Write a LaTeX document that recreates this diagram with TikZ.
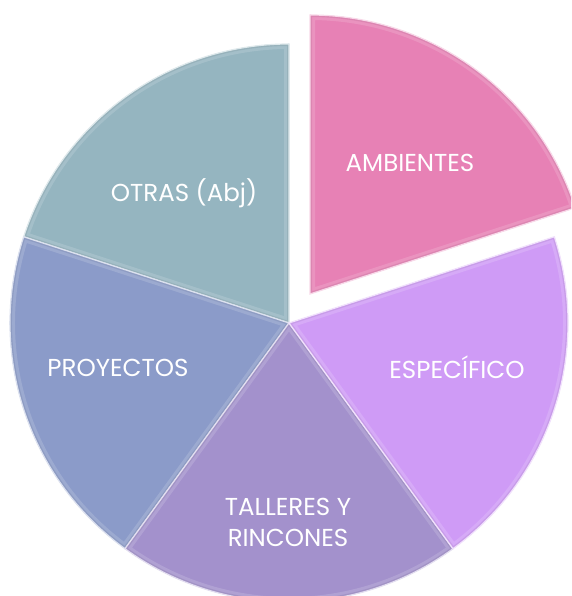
\documentclass[tikz,border=0pt]{standalone}
\usepackage{fontspec}
\setmainfont{Poppins}
\definecolor{cotras}{HTML}{95B5C0}
\definecolor{cproy}{HTML}{8B9BC9}
\definecolor{ctall}{HTML}{A391CC}
\definecolor{cespe}{HTML}{CF9BF6}
\definecolor{cambi}{HTML}{E781B5}
\tikzset{
  lbl/.style={text=white, font=\fontsize{24.5}{31}\selectfont, align=center, inner sep=0pt},
}
\newcommand{\pieslice}[4]{% center, a1, a2, colour
  \begin{scope}
    \clip (#1) -- ++(#2:279) arc[start angle=#2, end angle=#3, radius=279] -- cycle;
    \fill[#4] (#1) -- ++(#2:279) arc[start angle=#2, end angle=#3, radius=279] -- cycle;
    \draw[#4!75!white, line width=10pt, opacity=0.6] (#1) -- ++(#2:279) arc[start angle=#2, end angle=#3, radius=279] -- cycle;
    \draw[#4!85!black, line width=4pt, opacity=0.35] (#1) -- ++(#2:279) arc[start angle=#2, end angle=#3, radius=279] -- cycle;
  \end{scope}
  \draw[white!70!#4, line width=1.2pt] (#1) -- ++(#2:279) arc[start angle=#2, end angle=#3, radius=279] -- cycle;
}
\begin{document}
\begin{tikzpicture}[x=1pt,y=1pt]
\useasboundingbox (0,0) rectangle (571,596);
\clip (0,0) rectangle (571,596);
\fill[white] (0,0) rectangle (571,596);
\coordinate (c) at (289,273);
\coordinate (ca) at (310,302);
\pieslice{c}{90}{162}{cotras}
\pieslice{c}{162}{234}{cproy}
\pieslice{c}{234}{306}{ctall}
\pieslice{c}{306}{378}{cespe}
\pieslice{ca}{18}{90}{cambi}
\node[lbl] (ambi) at (410,433) {AMBIENTES};
\node[lbl] (otras) at (184,403) {OTRAS (Abj)};
\node[lbl] (proy) at (118,228) {PROYECTOS};
\node[lbl] (espe) at (457,229) {ESPECÍFICO};
\node[lbl] (tall) at (288,74) {TALLERES Y\\RINCONES};
\end{tikzpicture}
\end{document}
